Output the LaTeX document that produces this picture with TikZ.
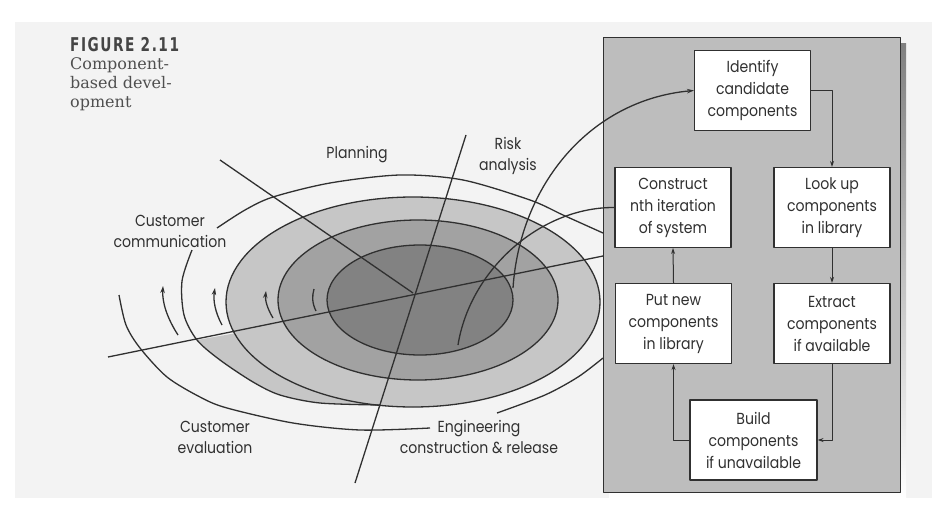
\documentclass[tikz,border=0pt]{standalone}
\usepackage{fontspec}
\setmainfont{Poppins}[FakeStretch=0.88]
\newfontfamily\capfont{DejaVu Sans}[FakeStretch=0.72, LetterSpace=8]
\newfontfamily\slabfont{DejaVu Serif}
\usetikzlibrary{arrows.meta}

\definecolor{ink}{HTML}{303030}
\definecolor{paper}{HTML}{F3F3F3}
\definecolor{ringA}{HTML}{C6C6C6}
\definecolor{ringB}{HTML}{A2A2A2}
\definecolor{ringC}{HTML}{828282}
\definecolor{panel}{HTML}{BDBDBD}
\definecolor{shade}{HTML}{2A2A2A}

\begin{document}
\begin{tikzpicture}[x=1pt, y=-1pt, line join=round,
  spiral/.style={draw=ink, line width=1.3pt},
  tip/.style={-{Stealth[length=7pt,width=4.5pt]}},
  stepbox/.style={draw=ink, fill=white, line width=1.1pt, minimum width=116pt,
    minimum height=80pt, align=center, text=ink, inner sep=2pt,
    font=\fontsize{16}{22}\selectfont},
  flow/.style={draw=ink, line width=1pt, -{Stealth[length=6pt,width=4pt]}},
  lbl/.style={align=center, text=ink, inner sep=0pt, font=\fontsize{16}{21}\selectfont},
  capline/.style={anchor=base west, inner sep=0pt, text=ink!85, font=\slabfont\fontsize{16}{19}\selectfont}]

\useasboundingbox (0,0) rectangle (941,511);
\fill[white] (0,0) rectangle (941,511);
\fill[paper] (15,22) rectangle (932,498);

% shaded rings of the spiral
\fill[ringA] (413,302) ellipse [x radius=187pt, y radius=105pt];
\fill[ringA] plot[smooth] coordinates {(197,340) (220,360) (253,382) (280,395) (320,403) (380,405)} -- (413,302) -- cycle;
\fill[ringB] (418,300) ellipse [x radius=140pt, y radius=80pt];
\fill[ringC] (420,300) ellipse [x radius=93pt, y radius=55pt];
\draw[spiral] (413,302) ellipse [x radius=187pt, y radius=105pt];
\draw[spiral] (418,300) ellipse [x radius=140pt, y radius=80pt];
\draw[spiral] (420,300) ellipse [x radius=93pt, y radius=55pt];

% component panel with drop shadow
\fill[shade] (609,44) rectangle (906,498);
\filldraw[fill=panel, draw=ink, line width=1pt] (603,38) rectangle (900,492);

\node[stepbox] (ident) at (752.5,90.5) {Identify\\candidate\\components};
\node[stepbox] (construct) at (673,207.5) {Construct\\nth iteration\\of system};
\node[stepbox] (lookup) at (832,207.5) {Look up\\components\\in library};
\node[stepbox] (putnew) at (673.5,323.5) {Put new\\components\\in library};
\node[stepbox] (extract) at (832,323.5) {Extract\\components\\if available};
\node[stepbox, minimum width=127pt] (build) at (753.5,440) {Build\\components\\if unavailable};

\draw[flow] (ident.east) -| (lookup.north);
\draw[flow] (lookup.south) -- (extract.north);
\draw[flow] (extract.south) |- (build.east);
\draw[flow] (build.west) -| (putnew.south);
\draw[flow] (putnew.north) -- (construct.south);

% outer windings of the spiral
\draw[spiral] plot[smooth] coordinates {(192,250) (182,281) (184,315) (197,340) (220,360) (253,382) (280,395) (320,403) (380,405)};
\draw[spiral] plot[smooth] coordinates {(119,295) (126,325) (140,348) (167,377) (200,397) (227,408) (293,423) (360,430) (430,428)};
\draw[spiral] plot[smooth] coordinates {(497,413) (545,395) (578,377) (603,358)};
\draw[spiral] plot[smooth] coordinates {(217,228) (245,210) (273,197) (330,183) (400,175) (463,180) (530,200) (563,215) (603,233)};

% short direction arcs on the left
\draw[spiral, tip] (178,335) .. controls (167,318) and (162,302) .. (163,286);
\draw[spiral, tip] (222,325) .. controls (215,312) and (213,300) .. (215,288);
\draw[spiral, tip] (273,318) .. controls (267,308) and (265,300) .. (266,291);
\draw[spiral] (316,311) .. controls (312,303) and (312,296) .. (314,289);

% sector boundaries
\coordinate (hub) at (413,293);
\coordinate (planTop) at (220,160);
\coordinate (riskTop) at (466,135);
\coordinate (riskEnd) at (355,483);
\coordinate (axisLeft) at (108,357);
\coordinate (axisRight) at (603,256);
\draw[spiral] (planTop) -- (hub);
\draw[spiral] (riskTop) -- (riskEnd);
\draw[spiral] (axisLeft) -- (axisRight);

% links between the spiral and the component steps
\draw[spiral, tip] (513,288) .. controls (520,185) and (590,100) .. (ident.west);
\draw[spiral] (458,345) .. controls (470,270) and (540,207) .. (construct.west);

% sector names
\node[lbl] (planning) at (357,155) {Planning};
\node[lbl] (risk) at (508,156) {Risk\\analysis};
\node[lbl] (comm) at (170,231) {Customer\\communication};
\node[lbl] (eval) at (215,437) {Customer\\evaluation};
\node[lbl] (eng) at (479,437) {Engineering\\construction \& release};

% caption
\node[anchor=base west, inner sep=0pt, text=ink!90,
  font=\capfont\bfseries\fontsize{19}{19}\selectfont] (figno) at (70,52) {FIGURE 2.11};
\node[capline] (cap1) at (70,69) {Component-};
\node[capline] (cap2) at (70,88) {based devel-};
\node[capline] (cap3) at (70,107) {opment};
\end{tikzpicture}
\end{document}
